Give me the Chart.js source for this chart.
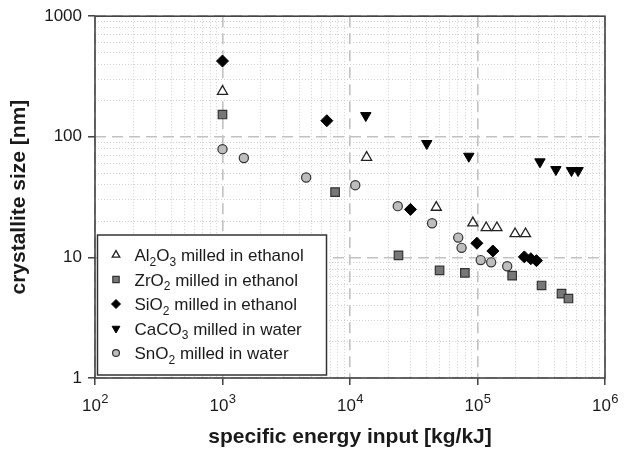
<!DOCTYPE html>
<html>
<head>
<meta charset="utf-8">
<script src="https://cdn.jsdelivr.net/npm/chart.js@4"></script>
<style>
  html, body { margin: 0; padding: 0; background: #fff; }
  #wrap { width: 639px; height: 453px; }
</style>
</head>
<body>
<div id="wrap"><canvas id="myChart"></canvas></div>
<script>
'use strict';

// series names (subscript digits are drawn lowered in the legend)
const seriesNames = [
  'Al₂O₃ milled in ethanol',
  'ZrO₂ milled in ethanol',
  'SiO₂ milled in ethanol',
  'CaCO₃ milled in water',
  'SnO₂ milled in water'
];

// specific energy input [kg/kJ] and crystallite size [nm]
const alX = [1000, 13500, 47500, 92000, 117000, 142000, 197000, 238000];
const alY = [238, 67.5, 26, 19.3, 17.6, 17.6, 15.7, 15.7];

const zrX = [1000, 7640, 24000, 50400, 79600, 187000, 318000, 456000, 517000];
const zrY = [153, 34.8, 10.4, 7.8, 7.45, 7.05, 5.85, 5.0, 4.56];

const siX = [1000, 6580, 29800, 98900, 132000, 233000, 262000, 290000];
const siY = [425, 136, 25, 13.1, 11.3, 10.1, 9.75, 9.4];

const caX = [13300, 40000, 85500, 309000, 412000, 546000, 615000];
const caY = [150, 88, 69, 62, 53.5, 52.5, 52.5];

const snX = [1000, 1470, 4530, 11000, 23700, 44000, 70600, 75000, 106000, 128000, 171000];
const snY = [79, 66.7, 46, 39.7, 26.6, 19.2, 14.6, 12.0, 9.5, 9.1, 8.45];

// axis ticks
const xDecades = [100, 1000, 10000, 100000, 1000000];
const xTickExps = ['2', '3', '4', '5', '6'];
const yDecades = [1, 10, 100, 1000];
const yTickLabels = ['1', '10', '100', '1000'];

const FONT = "'Liberation Sans', Arial, Helvetica, sans-serif";

function toPoints(xs, ys) {
  return xs.map((x, i) => ({x: x, y: ys[i]}));
}

function isDecade(v) {
  const e = Math.log10(v);
  return Math.abs(e - Math.round(e)) < 1e-6;
}

// keep only 1..9 x 10^n ticks (drop the 1.5 ticks chart.js adds)
function keepIntegerMantissa(scale) {
  scale.ticks = scale.ticks.filter(t => {
    const m = t.value / Math.pow(10, Math.floor(Math.log10(t.value) + 1e-9));
    return Math.abs(m - Math.round(m)) < 1e-6;
  });
}

const gridOpts = {
  color: c => isDecade(c.tick.value) ? '#c2c2c2' : '#d0d0d0',
  lineWidth: c => isDecade(c.tick.value) ? 1.6 : 1,
  tickColor: c => isDecade(c.tick.value) ? '#333' : 'rgba(0,0,0,0)',
  tickWidth: 1.4,
  tickLength: 7
};
const borderOpts = {
  display: false,
  dash: c => isDecade(c.tick.value) ? [11, 6] : [1, 2]
};

const frameAndLabels = {
  id: 'frameAndLabels',
  beforeDatasetsDraw(chart) {
    const {ctx, chartArea: a} = chart;
    ctx.save();
    ctx.strokeStyle = '#444';
    ctx.lineWidth = 1.6;
    ctx.strokeRect(a.left, a.top, a.right - a.left, a.bottom - a.top);
    ctx.restore();
  },
  afterDraw(chart) {
    const {ctx, chartArea: a} = chart;
    const xs = chart.scales.x;
    ctx.save();
    ctx.fillStyle = '#1a1a1a';
    ctx.textBaseline = 'alphabetic';
    ctx.textAlign = 'left';
    // x tick labels 10^n
    xDecades.forEach((v, i) => {
      const px = xs.getPixelForValue(v);
      ctx.font = '17px ' + FONT;
      const wBase = ctx.measureText('10').width;
      ctx.font = '13px ' + FONT;
      const wExp = ctx.measureText(xTickExps[i]).width;
      const x0 = px - (wBase + wExp) / 2;
      ctx.font = '17px ' + FONT;
      ctx.fillText('10', x0, a.bottom + 33);
      ctx.font = '13px ' + FONT;
      ctx.fillText(xTickExps[i], x0 + wBase + 0.5, a.bottom + 25);
    });

    // legend box
    const bx = a.left + 2.5, by = a.bottom - 143, bw = 229, bh = 140;
    ctx.fillStyle = '#fff';
    ctx.fillRect(bx, by, bw, bh);
    ctx.strokeStyle = '#333';
    ctx.lineWidth = 1.5;
    ctx.strokeRect(bx, by, bw, bh);

    chart.data.datasets.forEach((ds, i) => {
      const cy = by + 20 + i * 24.5;
      ctx.fillStyle = ds.backgroundColor;
      ctx.strokeStyle = ds.borderColor;
      ctx.lineWidth = ds.borderWidth;
      Chart.helpers.drawPoint(ctx, {
        pointStyle: ds.pointStyle,
        radius: ds.pointRadius * 0.75,
        rotation: ds.rotation || 0,
        borderWidth: ds.borderWidth
      }, bx + 18.5, cy);

      // label with subscripts
      let tx = bx + 37;
      const baseY = cy + 6;
      ctx.fillStyle = '#1a1a1a';
      for (const ch of ds.label) {
        const code = ch.charCodeAt(0);
        if (code >= 0x2080 && code <= 0x2089) {
          const d = String.fromCharCode(code - 0x2080 + 48);
          ctx.font = '12px ' + FONT;
          ctx.fillText(d, tx, baseY + 4.5);
          tx += ctx.measureText(d).width;
        } else {
          ctx.font = '17px ' + FONT;
          ctx.fillText(ch, tx, baseY);
          tx += ctx.measureText(ch).width;
        }
      }
    });
    ctx.restore();
  }
};

const ctx = document.getElementById('myChart').getContext('2d');

const myChart = new Chart(ctx, {
  type: 'scatter',
  data: {
    datasets: [{
      label: seriesNames[0],
      data: toPoints(alX, alY),
      pointStyle: 'triangle',
      pointRadius: 5.8,
      backgroundColor: '#ffffff',
      borderColor: '#222',
      borderWidth: 1.3
    }, {
      label: seriesNames[1],
      data: toPoints(zrX, zrY),
      pointStyle: 'rect',
      pointRadius: 6,
      backgroundColor: '#777777',
      borderColor: '#333',
      borderWidth: 1.2
    }, {
      label: seriesNames[2],
      data: toPoints(siX, siY),
      pointStyle: 'rectRot',
      pointRadius: 6,
      backgroundColor: '#000',
      borderColor: '#000',
      borderWidth: 1
    }, {
      label: seriesNames[3],
      data: toPoints(caX, caY),
      pointStyle: 'triangle',
      rotation: 180,
      pointRotation: 180,
      pointRadius: 6,
      backgroundColor: '#000',
      borderColor: '#000',
      borderWidth: 1
    }, {
      label: seriesNames[4],
      data: toPoints(snX, snY),
      pointStyle: 'circle',
      pointRadius: 4.6,
      backgroundColor: '#bdbdbd',
      borderColor: '#333',
      borderWidth: 1.2
    }]
  },
  options: {
    responsive: true,
    maintainAspectRatio: false,
    animation: false,
    layout: { padding: { top: 10, right: 34, left: 0, bottom: 0 } },
    plugins: {
      legend: { display: false },
      tooltip: { enabled: false }
    },
    scales: {
      x: {
        type: 'logarithmic',
        min: 100,
        max: 1000000,
        afterBuildTicks: keepIntegerMantissa,
        afterFit: s => { s.height = 75; },
        grid: gridOpts,
        border: borderOpts,
        ticks: { autoSkip: false, maxRotation: 0, callback: () => '' },
        title: {
          display: true,
          text: 'specific energy input [kg/kJ]',
          color: '#1a1a1a',
          font: { family: FONT, size: 21, weight: 'bold' },
          padding: { top: 0, bottom: 3 }
        }
      },
      y: {
        type: 'logarithmic',
        min: 1,
        max: 1000,
        afterBuildTicks: keepIntegerMantissa,
        afterFit: s => { s.width = 95; },
        grid: gridOpts,
        border: borderOpts,
        ticks: {
          autoSkip: false,
          padding: 6,
          color: '#1a1a1a',
          font: { family: FONT, size: 17 },
          callback: v => {
            const i = yDecades.indexOf(v);
            return i >= 0 ? yTickLabels[i] : '';
          }
        },
        title: {
          display: true,
          text: 'crystallite size [nm]',
          color: '#1a1a1a',
          font: { family: FONT, size: 21, weight: 'bold' },
          padding: { top: 7, bottom: 0 }
        }
      }
    }
  },
  plugins: [frameAndLabels]
});
</script>
</body>
</html>
